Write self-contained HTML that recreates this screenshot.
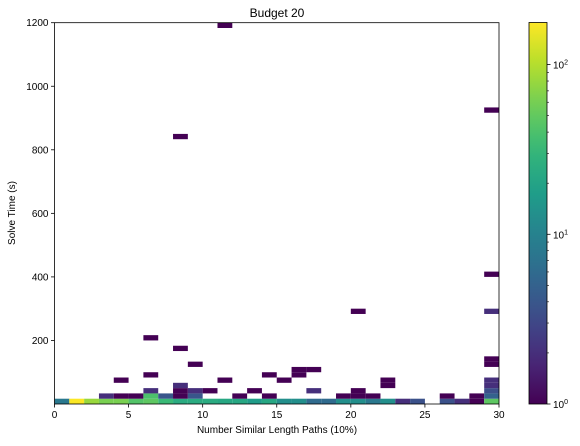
<!DOCTYPE html>
<html><head><meta charset="utf-8"><style>
body{margin:0;background:#fff;font-family:"Liberation Sans",sans-serif}
svg text{font-family:"Liberation Sans",sans-serif;fill:#000}
</style></head><body>
<svg id="c" width="580" height="441" viewBox="0 0 580 441" xmlns="http://www.w3.org/2000/svg">
<text x="277" y="17" font-size="12" text-anchor="middle">Budget 20</text>
<g id="cells"></g>
<g id="axes"></g>
<text x="277" y="433" font-size="10" text-anchor="middle">Number Similar Length Paths (10%)</text>
<text x="15" y="213" font-size="10" text-anchor="middle" transform="rotate(-90 15 213)">Solve Time (s)</text>
<defs><linearGradient id="vg" x1="0" y1="1" x2="0" y2="0"></linearGradient></defs>
<rect x="529" y="22.5" width="18" height="381.5" fill="url(#vg)" stroke="#000" stroke-width="0.8"/>
<g id="cbax"></g>
</svg>
<script>
// bin column (x), bin row (y, 1200/72 s per bin), count
const cellX = [0,1,2,3,4,5,6,7,8,9,10,11,12,13,14,15,16,17,18,19,20,21,22,23,24,26,27,28,29,
  3,4,5,6,7,8,9,12,14,19,20,21,26,28,29,
  6,8,9,10,13,17,20,29,
  8,29,22,
  4,11,15,22,29,
  6,14,16,
  16,17,
  9,29,29,
  8,6,29,20,29,8,29,11];
const cellY = [0,0,0,0,0,0,0,0,0,0,0,0,0,0,0,0,0,0,0,0,0,0,0,0,0,0,0,0,0,
  1,1,1,1,1,1,1,1,1,1,1,1,1,1,1,
  2,2,2,2,2,2,2,2,
  3,3,3,
  4,4,4,4,4,
  5,5,5,
  6,6,
  7,7,8,
  10,12,17,17,24,50,55,71];
const cellCount = [8,174,80,62,62,43,48,33,24,24,24,22,22,17,22,13,13,6,6,13,13,8,13,2,3.6,3.6,2,1,48,
  2,1,1,40,4,1,4,1,1,1,1,1,1,1,5,
  2,1,2,1,1,2,1,3.5,
  2,2,1,
  1,1,1,1,2,
  1,1,1,
  1,1,
  1,1,1,
  1,1,2,1,1,1,1,1];
const xTicks=[0,5,10,15,20,25,30];
const yTicks=[200,400,600,800,1000,1200];

const X0=54.5,X1=499,Y0=404,Y1=22.7,XMAX=30,YMAX=1200,BIN=1200/72,VMAX=177;
const sx=v=>X0+(X1-X0)*v/XMAX, sy=v=>Y0-(Y0-Y1)*v/YMAX;
const VIR=[[68,1,84],[72,40,120],[62,74,137],[49,104,142],[38,130,142],[31,158,137],[53,183,121],[109,205,89],[180,222,44],[253,231,37]];
function vir(t){t=Math.max(0,Math.min(1,t));const p=t*(VIR.length-1),i=Math.min(Math.floor(p),VIR.length-2),f=p-i;
 const c=VIR[i].map((a,k)=>Math.round(a+(VIR[i+1][k]-a)*f));return `rgb(${c})`;}
const NS='http://www.w3.org/2000/svg';
function mk(tag,attrs,parent){const e=document.createElementNS(NS,tag);for(const k in attrs)e.setAttribute(k,attrs[k]);parent.appendChild(e);return e;}
const cg=document.getElementById('cells');
for(let i=0;i<cellX.length;i++){
 const top=Math.max(sy((cellY[i]+1)*BIN),Y1);
 const r=mk('rect',{x:sx(cellX[i]),y:top,width:sx(cellX[i]+1)-sx(cellX[i]),height:sy(cellY[i]*BIN)-top,fill:vir(Math.log(cellCount[i])/Math.log(VMAX))},cg);
 
 
}
const ax=document.getElementById('axes');
mk('rect',{x:X0,y:Y1,width:X1-X0,height:Y0-Y1,fill:'none',stroke:'#000','stroke-width':0.8},ax);
for(const t of xTicks){const x=sx(t);mk('line',{x1:x,x2:x,y1:Y0,y2:Y0+3.5,stroke:'#000','stroke-width':0.8},ax);
 const tx=mk('text',{x:x,y:Y0+14,'font-size':10,'text-anchor':'middle'},ax);tx.textContent=t;
 
 }
for(const t of yTicks){const y=sy(t);mk('line',{x1:X0-3.5,x2:X0,y1:y,y2:y,stroke:'#000','stroke-width':0.8},ax);
 const tx=mk('text',{x:X0-6,y:y+3.5,'font-size':10,'text-anchor':'end'},ax);tx.textContent=t;
 
 }
const g=document.getElementById('vg');
for(let i=0;i<=20;i++)mk('stop',{offset:i/20,'stop-color':vir(i/20)},g);
const cb=document.getElementById('cbax');
const cy=v=>404-(404-22.5)*Math.log10(v)/Math.log10(VMAX);
for(let d=0;d<=2;d++){const y=cy(Math.pow(10,d));mk('line',{x1:547,x2:550.5,y1:y,y2:y,stroke:'#000','stroke-width':0.8},cb);
 const tx=mk('text',{x:553,y:y+4,'font-size':10},cb);tx.textContent='10';
 const s=mk('tspan',{dy:-4,'font-size':7},tx);s.textContent=d;
 
 
 for(let m=2;m<=9;m++){const v=m*Math.pow(10,d);if(v>VMAX)break;const yy=cy(v);mk('line',{x1:547,x2:549,y1:yy,y2:yy,stroke:'#000','stroke-width':0.6},cb);}}
</script>
</body></html>
